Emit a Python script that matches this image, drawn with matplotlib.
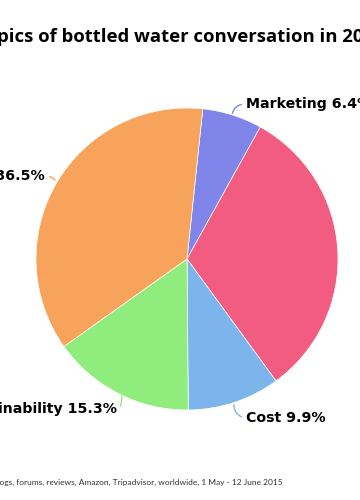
import matplotlib
matplotlib.use("Agg")
from matplotlib import pyplot as plt

# data (clockwise, Marketing first)
topics = ['Marketing', 'Taste', 'Cost', 'Sustainability', 'Health']
shares = [6.4, 31.9, 9.9, 15.3, 36.5]
colors = ['#8085e9', '#f15c80', '#7cb5ec', '#90ed7d', '#f7a35c']

title = 'Topics of bottled water conversation in 2015'
source = 'Source: Twitter, blogs, forums, reviews, Amazon, Tripadvisor, worldwide, 1 May - 12 June 2015'

W, H = 360, 500
fig = plt.figure(figsize=(W / 100, H / 100), dpi=100)
ax = fig.add_axes([0, 0, 1, 1])

cx, cy, r = 187, H - 259, 151
wedges, _ = ax.pie(shares, colors=colors, startangle=84, counterclock=False,
                   center=(cx, cy), radius=r, frame=True,
                   wedgeprops=dict(edgecolor='white', linewidth=0.5))
ax.set_xlim(0, W)
ax.set_ylim(0, H)
ax.set_aspect('equal')
ax.axis('off')

# label placement (pixel coords from top) : text anchor, alignment, connector start
labels = [
    ((246, 104), 'left', (232, 116), 'arc3,rad=-0.4'),
    ((364, 248), 'left', (338, 249), 'arc3,rad=0'),
    ((246, 418), 'left', (234, 402), 'arc3,rad=0.4'),
    ((117, 409), 'right', (121, 393), 'arc3,rad=-0.2'),
    ((45, 176), 'right', (57, 182), 'arc3,rad=0.2'),
]
for (name, val, col, (pos, ha, edge, cs)) in zip(topics, shares, colors, labels):
    tx, ty = pos
    end_x = tx - 2 if ha == 'left' else tx + 2
    ax.annotate('', xy=(end_x, H - ty), xytext=(edge[0], H - edge[1]),
                arrowprops=dict(arrowstyle='-', color=col, lw=1, connectionstyle=cs))
    ax.text(tx, H - ty, f'{name} {val}%', ha=ha, va='center',
            fontsize=10.2, fontweight='bold', color='#000000', family='DejaVu Sans')

fig.text(0.5, 1 - 37 / H, title, ha='center', va='center',
         fontsize=13.3, fontweight='bold', color='#000000', family='Open Sans')
fig.text(283 / W, 1 - 482 / H, source, ha='right', va='center',
         fontsize=6.0, color='#333333', family='Lato')

fig.savefig('out.png', dpi=100)
